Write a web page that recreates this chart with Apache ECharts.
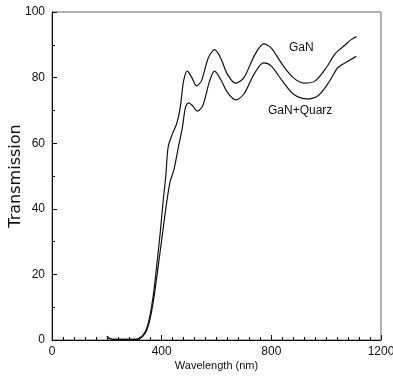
<!DOCTYPE html>
<html><head><meta charset="utf-8">
<script src="https://cdn.jsdelivr.net/npm/echarts@6/dist/echarts.min.js"></script>
<style>html,body{margin:0;padding:0;background:#fff}#c{width:393px;height:377px}</style>
</head><body><div id="c"></div>
<script>
var ganX = [200,215,250,300,320,340,355,370,385,395,405,415,424,440,455,468,480,494,510,527,545,570,593,615,640,670,700,740,772,800,840,880,920,960,1000,1030,1045,1070,1090,1110];
var ganY = [1.2,0.3,0.2,0.2,0.6,2.5,6.5,14,25,33,42,50,59,63,66,71,79,82,80,77.5,79,86,88.5,86,81,78.3,80,87,90.3,89,84,80,78.3,79,83,87,88.3,90,91.5,92.5];
var quzX = [200,215,250,300,320,340,355,370,385,400,415,430,445,461,476,487,498,512,530,550,575,593,615,640,670,700,740,772,800,840,880,930,970,1005,1040,1050,1070,1090,1110];
var quzY = [1.0,0.3,0.2,0.2,0.5,2,5.5,12,21,30.5,40,48,52,58.8,65,71,72.3,71.5,69.8,71.5,79,82,79.5,75.5,73.2,75,81.5,84.5,83.5,79,75,73.5,74.5,78,82.8,83.5,84.5,85.5,86.5];
var xTicks = [0,400,800,1200];
var yTicks = [0,20,40,60,80,100];
var seriesNames = ['GaN','GaN+Quarz'];

function pairs(xs, ys){ return xs.map(function(x,i){return [x, ys[i]];}); }
var font = 'Liberation Sans, Arial, sans-serif';
var chart = echarts.init(document.getElementById('c'), null, {renderer:'canvas'});
chart.setOption({
  animation:false,
  backgroundColor:'#fff',
  grid:{left:52, right:12, top:12, bottom:37, show:true, borderColor:'#666', borderWidth:1,
        containLabel:false, outerBoundsMode:'none'},
  xAxis:{type:'value', min:0, max:1200, interval:400,
    name:'Wavelength (nm)', nameLocation:'middle', nameGap:20, nameMoveOverlap:false,
    nameTextStyle:{fontFamily:font, fontSize:11, color:'#111'},
    axisLine:{show:true, onZero:false, lineStyle:{color:'#111', width:1}},
    axisTick:{show:true, inside:true, length:5, lineStyle:{color:'#111'}},
    minorTick:{show:true, splitNumber:10, length:3, lineStyle:{color:'#111'}},
    splitLine:{show:false},
    axisLabel:{fontFamily:font, fontSize:12, color:'#111', margin:6, hideOverlap:false,
      formatter:function(v){return xTicks.indexOf(v)>=0 ? String(v) : '';}}
  },
  yAxis:{type:'value', min:0, max:100, interval:20,
    name:'Transmission', nameLocation:'middle', nameGap:28, nameMoveOverlap:false,
    nameTextStyle:{fontFamily:'DejaVu Sans, sans-serif', fontSize:16, color:'#111'},
    axisLine:{show:true, lineStyle:{color:'#111', width:1}},
    axisTick:{show:true, inside:true, length:5, lineStyle:{color:'#111'}},
    minorTick:{show:true, splitNumber:2, length:3, lineStyle:{color:'#111'}},
    splitLine:{show:false},
    axisLabel:{fontFamily:font, fontSize:12, color:'#111', margin:7,
      formatter:function(v){return yTicks.indexOf(v)>=0 ? String(v) : '';}}
  },
  series:[
    {name:seriesNames[0], type:'line', data:pairs(ganX, ganY), smooth:0.3, symbol:'none',
     lineStyle:{color:'#111', width:1.2}},
    {name:seriesNames[1], type:'line', data:pairs(quzX, quzY), smooth:0.3, symbol:'none',
     lineStyle:{color:'#111', width:1.2}}
  ],
  graphic:[
    {type:'text', left:289, top:42, style:{text:seriesNames[0], font:'12px '+font, fill:'#111'}},
    {type:'text', left:268, top:105, style:{text:seriesNames[1], font:'12px '+font, fill:'#111'}}
  ]
});
</script></body></html>
